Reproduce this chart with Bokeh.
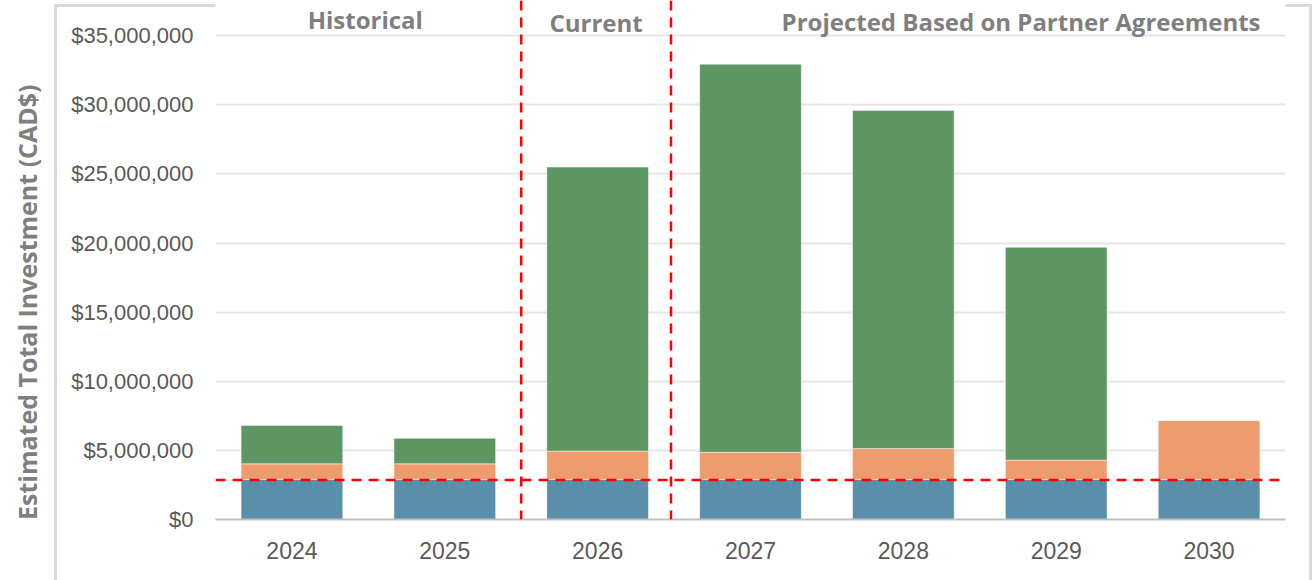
from bokeh.plotting import figure
from bokeh.models import (FactorRange, Range1d, Span, Label,
                          SingleIntervalTicker, NumeralTickFormatter)
from bokeh.embed import file_html
from bokeh.resources import INLINE

# ---------------- data ----------------
years = ["2024", "2025", "2026", "2027", "2028", "2029", "2030"]
base_funding = [2.9e6, 2.9e6, 2.9e6, 2.9e6, 2.9e6, 2.9e6, 2.9e6]          # blue
partner_a = [1.13e6, 1.13e6, 2.05e6, 1.96e6, 2.24e6, 1.40e6, 4.27e6]      # orange
partner_b = [2.78e6, 1.84e6, 20.55e6, 28.08e6, 24.45e6, 15.39e6, 0.0]     # green
threshold = 2.85e6
period_labels = ["Historical", "Current", "Projected Based on Partner Agreements"]
period_bounds = [2.0, 2.98]
y_title = "Estimated Total Investment (CAD$)"

colors = ["#5B8EA9", "#EE9B6E", "#5E9663"]
stack_keys = ["base", "pa", "pb"]
source = dict(years=years, base=base_funding, pa=partner_a, pb=partner_b)

# ---------------- figure ----------------
W, H = 1316, 580
p = figure(width=W, height=H, x_range=FactorRange(*years, range_padding=0),
           y_range=Range1d(0, 37.55e6), output_backend="svg", toolbar_location=None,
           min_border_left=215, min_border_right=31, min_border_top=0,
           min_border_bottom=61, outline_line_color=None,
           background_fill_color="white", border_fill_color=None)

# light grey chart-area border (drawn behind the transparent canvas border)
g = "linear-gradient(#D9D9D9,#D9D9D9)"
p.styles = {
    "background-color": "white",
    "background-image": ", ".join([g, g, g]),
    "background-size": "3px 580px, 1258px 3px, 3px 580px",
    "background-position": "54px 4px, 54px 4px, 1309px 4px",
    "background-repeat": "no-repeat",
}

p.vbar_stack(stack_keys, x="years", width=0.665, color=colors, source=source,
             line_color="white", line_alpha=0.45, line_width=1)

# axes
p.yaxis.ticker = SingleIntervalTicker(interval=5_000_000, num_minor_ticks=0)
p.yaxis.formatter = NumeralTickFormatter(format="$0,0")
p.yaxis.axis_line_color = None
p.yaxis.major_tick_line_color = None
p.yaxis.minor_tick_line_color = None
p.yaxis.major_tick_out = 0
p.yaxis.major_label_standoff = 22
p.yaxis.major_label_text_font = "Liberation Sans"
p.yaxis.major_label_text_font_size = "22px"
p.yaxis.major_label_text_color = "#595959"
# trailing no-break spaces push the (centred) title down, as in the reference
p.yaxis.axis_label = y_title + "\u00a0" * 13
p.yaxis.axis_label_standoff = 24
p.yaxis.axis_label_text_font = "Open Sans"
p.yaxis.axis_label_text_font_style = "bold"
p.yaxis.axis_label_text_font_size = "25px"
p.yaxis.axis_label_text_color = "#7F7F7F"

p.xaxis.axis_line_color = "#BFBFBF"
p.xaxis.axis_line_width = 2
p.xaxis.major_tick_line_color = None
p.xaxis.minor_tick_line_color = None
p.xaxis.major_tick_out = 0
p.xaxis.major_label_standoff = 22
p.xaxis.major_label_text_font = "Liberation Sans"
p.xaxis.major_label_text_font_size = "23px"
p.xaxis.major_label_text_color = "#595959"

p.xgrid.grid_line_color = None
p.ygrid.grid_line_color = "#E6E6E6"
p.ygrid.grid_line_width = 2

# dashed reference lines
p.add_layout(Span(location=threshold, dimension="width", line_color="#FF0000",
                  line_dash="10 7", line_width=2.5))
for b in period_bounds:
    p.add_layout(Span(location=b, dimension="height", line_color="#FF0000",
                      line_dash="10 7", line_width=2.5))

# period headers
hdr_x = [0.98, 2.49, 5.27]
hdr_y = [500, 497, 498]
for t, hx, hy in zip(period_labels, hdr_x, hdr_y):
    p.add_layout(Label(x=hx, y=hy, y_units="screen", text=t, text_align="center",
                       text_baseline="middle", text_font="Open Sans",
                       text_font_style="bold", text_font_size="24px",
                       text_color="#7F7F7F"))

open("out.html", "w").write(file_html(p, INLINE))
